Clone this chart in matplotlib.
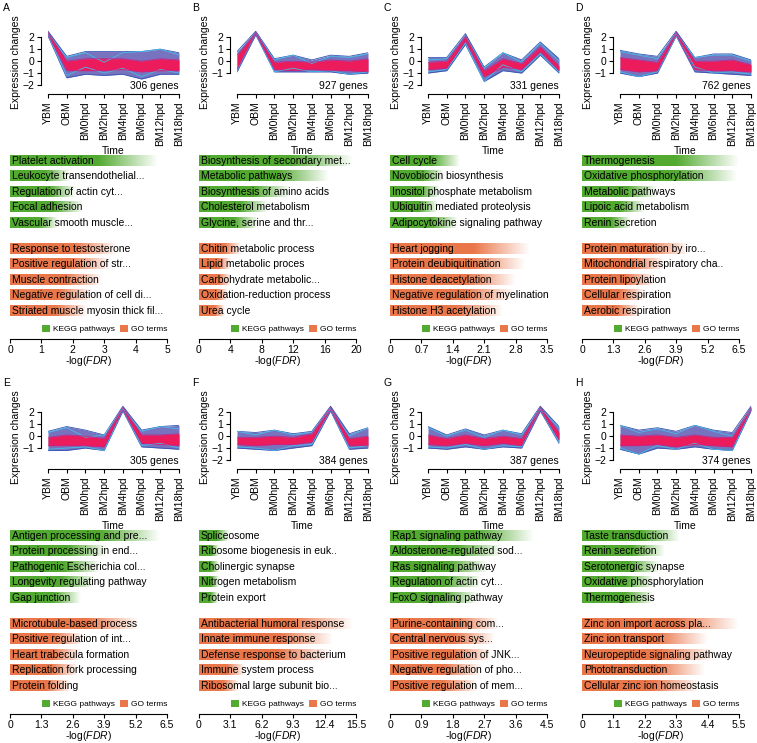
import numpy as np
import matplotlib
matplotlib.use('Agg')
import matplotlib.pyplot as plt
from matplotlib.patches import Patch
from matplotlib.colors import to_rgb
from matplotlib.transforms import offset_copy

plt.rcParams['font.family'] = ['Liberation Sans', 'DejaVu Sans']
plt.rcParams['font.size'] = 7.5
plt.rcParams['mathtext.fontset'] = 'custom'
plt.rcParams['mathtext.it'] = 'Liberation Sans:italic'
plt.rcParams['mathtext.rm'] = 'Liberation Sans'

# time points of the expression profiles
timepoints = ['YBM', 'OBM', 'BM0hpd', 'BM2hpd', 'BM4hpd', 'BM6hpd', 'BM12hpd', 'BM18hpd']
panel_letters = ['A', 'B', 'C', 'D', 'E', 'F', 'G', 'H']
gene_counts = [306, 927, 331, 762, 305, 384, 387, 374]
y_lower = [-2, -1, -2, -1, -1, -2, -1, -2]

# envelope of all gene profiles in each cluster (blue / purple lines)
outer_hi = [
    [2.5, 0.4, 0.8, 0.8, 0.8, 0.8, 1.0, 0.7],
    [0.8, 2.5, 0.2, 0.5, 0.1, 0.5, 0.4, 0.7],
    [0.3, 0.3, 2.3, -0.5, 0.7, 0.1, 1.6, 0.2],
    [0.9, 0.6, 0.4, 2.5, 0.3, 0.6, 0.6, 0.1],
    [0.4, 0.8, 0.5, 0.1, 2.5, 0.5, 0.8, 0.9],
    [0.4, 0.3, 0.5, 0.2, 0.4, 2.5, 0.2, 0.7],
    [0.8, 0.1, 0.6, 0.1, 0.5, 0.2, 2.5, 0.8],
    [0.9, 0.5, 0.7, 0.4, 0.9, 0.5, 0.3, 2.5],
]
outer_lo = [
    [2.1, -1.4, -1.1, -1.2, -1.1, -1.5, -1.1, -1.1],
    [-0.9, 2.2, -0.9, -0.9, -0.9, -0.9, -1.1, -1.0],
    [-1.0, -0.8, 1.4, -1.7, -0.8, -1.0, 0.5, -1.0],
    [-1.0, -1.3, -1.0, 2.1, -0.9, -1.0, -1.1, -1.2],
    [-1.2, -1.2, -1.0, -1.2, 2.1, -0.9, -1.0, -1.1],
    [-1.0, -1.1, -1.2, -1.0, -0.8, 2.1, -1.1, -1.0],
    [-1.0, -1.1, -0.9, -1.1, -0.9, -1.0, 2.1, -0.6],
    [-1.1, -1.5, -1.0, -1.1, -0.9, -1.1, -1.2, 2.1],
]
# core of high-membership profiles (red lines)
core_hi = [
    [2.4, 0.0, 0.2, 0.2, 0.2, 0.0, 0.2, 0.1],
    [0.5, 2.4, -0.1, 0.0, -0.1, 0.1, 0.0, 0.2],
    [-0.1, 0.0, 2.1, -0.8, 0.2, -0.2, 1.2, -0.4],
    [0.3, 0.1, -0.1, 2.4, 0.0, 0.0, 0.1, -0.3],
    [-0.1, 0.1, 0.0, -0.2, 2.4, 0.1, 0.1, 0.2],
    [-0.1, -0.1, 0.0, -0.1, 0.2, 2.4, -0.2, 0.0],
    [0.1, -0.2, 0.1, -0.2, 0.0, -0.2, 2.4, 0.3],
    [0.1, 0.0, 0.1, -0.1, 0.1, -0.1, -0.1, 2.4],
]
core_lo = [
    [2.2, -0.8, -0.8, -0.8, -0.7, -0.9, -0.8, -0.8],
    [-0.7, 2.3, -0.7, -0.8, -0.7, -0.8, -0.8, -0.9],
    [-0.7, -0.6, 1.7, -1.3, -0.5, -0.7, 0.8, -0.8],
    [-0.7, -0.9, -0.8, 2.2, -0.7, -0.8, -0.8, -0.9],
    [-0.8, -0.8, -0.8, -0.9, 2.2, -0.6, -0.7, -0.8],
    [-0.7, -0.8, -0.7, -0.7, -0.5, 2.2, -0.8, -0.8],
    [-0.7, -0.8, -0.6, -0.8, -0.6, -0.8, 2.2, -0.3],
    [-0.8, -0.8, -0.7, -0.9, -0.7, -0.8, -0.9, 2.2],
]
# low-membership profiles (cyan lines)
cyan_1 = [
    [2.3, 0.3, 0.7, -0.1, 0.7, 0.8, 1.0, 0.5],
    [0.6, 2.4, 0.1, 0.5, -0.2, 0.4, 0.3, 0.6],
    [0.1, 0.2, 2.1, -0.6, 0.7, -0.1, 1.5, 0.0],
    [0.8, 0.5, 0.2, 2.3, 0.3, 0.5, 0.5, 0.0],
    [0.3, 0.7, -0.1, 0.1, 2.3, 0.4, 0.8, 0.6],
    [0.4, 0.1, 0.5, 0.1, 0.3, 2.3, 0.0, 0.7],
    [0.7, 0.0, 0.5, -0.1, 0.5, 0.1, 2.3, 0.7],
    [0.9, 0.3, 0.6, 0.2, 0.9, 0.4, 0.0, 2.3],
]
cyan_2 = [
    [2.2, -1.2, -0.5, -1.0, -0.6, -1.3, -0.7, -1.0],
    [-0.8, 2.3, -0.9, -0.6, -0.9, -0.8, -1.1, -0.9],
    [-0.9, -0.7, 1.5, -1.7, -0.3, -0.9, 0.6, -0.9],
    [-0.9, -1.3, -0.9, 2.1, -0.5, -1.0, -0.9, -1.1],
    [-1.1, -1.0, -0.9, -1.2, 2.2, -0.8, -0.6, -1.0],
    [-0.9, -1.0, -1.2, -0.8, -0.7, 2.2, -1.0, -0.8],
    [-0.9, -1.0, -0.7, -1.1, -0.8, -0.9, 2.2, -0.5],
    [-1.0, -1.5, -0.8, -1.1, -0.6, -1.1, -1.2, 2.2],
]

# enrichment results
kegg_terms = [
    ['Platelet activation', 'Leukocyte transendothelial...', 'Regulation of actin cyt...',
     'Focal adhesion', 'Vascular smooth muscle...'],
    ['Biosynthesis of secondary met...', 'Metabolic pathways', 'Biosynthesis of amino acids',
     'Cholesterol metabolism', 'Glycine, serine and thr...'],
    ['Cell cycle', 'Novobiocin biosynthesis', 'Inositol phosphate metabolism',
     'Ubiquitin mediated proteolysis', 'Adipocytokine signaling pathway'],
    ['Thermogenesis', 'Oxidative phosphorylation', 'Metabolic pathways',
     'Lipoic acid metabolism', 'Renin secretion'],
    ['Antigen processing and pre...', 'Protein processing in end...', 'Pathogenic Escherichia col...',
     'Longevity regulating pathway', 'Gap junction'],
    ['Spliceosome', 'Ribosome biogenesis in euk..', 'Cholinergic synapse',
     'Nitrogen metabolism', 'Protein export'],
    ['Rap1 signaling pathway', 'Aldosterone-regulated sod...', 'Ras signaling pathway',
     'Regulation of actin cyt...', 'FoxO signaling pathway'],
    ['Taste transduction', 'Renin secretion', 'Serotonergic synapse',
     'Oxidative phosphorylation', 'Thermogenesis'],
]
kegg_vals = [
    [4.7, 1.9, 2.1, 2.3, 1.5],
    [19.5, 16.5, 11.5, 8.7, 7.4],
    [1.55, 1.2, 1.1, 1.05, 1.5],
    [6.5, 6.4, 3.1, 2.6, 2.0],
    [6.2, 4.0, 3.7, 3.5, 2.9],
    [2.9, 1.9, 1.9, 1.9, 1.8],
    [4.1, 3.2, 2.8, 2.6, 2.5],
    [3.4, 2.9, 2.7, 2.5, 2.5],
]
go_terms = [
    ['Response to testosterone', 'Positive regulation of str...', 'Muscle contraction',
     'Negative regulation of cell di...', 'Striated muscle myosin thick fil...'],
    ['Chitin metabolic process', 'Lipid metabolic proces', 'Carbohydrate metabolic...',
     'Oxidation-reduction process', 'Urea cycle'],
    ['Heart jogging', 'Protein deubiquitination', 'Histone deacetylation',
     'Negative regulation of myelination', 'Histone H3 acetylation'],
    ['Protein maturation by iro...', 'Mitochondrial respiratory cha..', 'Protein lipoylation',
     'Cellular respiration', 'Aerobic respiration'],
    ['Microtubule-based process', 'Positive regulation of int...', 'Heart trabecula formation',
     'Replication fork processing', 'Protein folding'],
    ['Antibacterial humoral response', 'Innate immune response', 'Defense response to bacterium',
     'Immune system process', 'Ribosomal large subunit bio...'],
    ['Purine-containing com...', 'Central nervous sys...', 'Positive regulation of JNK...',
     'Negative regulation of pho...', 'Positive regulation of mem...'],
    ['Zinc ion import across pla...', 'Zinc ion transport', 'Neuropeptide signaling pathway',
     'Phototransduction', 'Cellular zinc ion homeostasis'],
]
go_vals = [
    [3.4, 3.2, 2.9, 2.6, 2.45],
    [5.3, 4.0, 4.0, 3.6, 3.2],
    [3.1, 3.0, 2.8, 2.75, 2.5],
    [4.4, 3.4, 3.0, 2.6, 2.4],
    [5.3, 3.0, 2.9, 2.8, 2.5],
    [15.2, 13.2, 13.0, 4.5, 3.9],
    [3.1, 3.0, 2.9, 2.6, 2.5],
    [5.5, 4.4, 4.6, 4.3, 4.1],
]
fdr_max = [5, 20, 3.5, 6.5, 6.5, 15.5, 4.5, 5.5]

GREEN = '#52aa30'
ORANGE = '#ea774a'

W, H = 757, 743
fig = plt.figure(figsize=(W / 100, H / 100), dpi=100)


def px_axes(x, y, w, h):
    # axes from pixel box (top-left origin)
    return fig.add_axes([x / W, 1 - (y + h) / H, w / W, h / H])


def grad_bar(ax, row, val, color):
    rgb = to_rgb(color)
    t = np.linspace(0, 1, 256)
    img = np.zeros((1, 256, 4))
    img[..., :3] = rgb
    img[..., 3] = np.clip((1 - t) / 0.4, 0, 1)
    ax.imshow(img, extent=(0, val, row + 0.33, row - 0.33), aspect='auto',
              interpolation='bilinear')


col_x = [0, 189, 380, 572]
row_y = [0, 375]
x = np.arange(len(timepoints))

for i in range(8):
    x0 = col_x[i % 4]
    y0 = row_y[i // 4]

    fig.text((x0 + 3) / W, 1 - (y0 + 8) / H, panel_letters[i], va='center', ha='left')

    # expression profile plot
    ax = px_axes(x0 + 48, y0 + 30, 131, 64)
    ax.fill_between(x, outer_lo[i], outer_hi[i], color='#4a44a8', alpha=0.75, lw=0)
    ax.plot(x, outer_hi[i], color='#3556b5', lw=0.6)
    ax.plot(x, outer_lo[i], color='#3556b5', lw=0.6)
    ax.plot(x, cyan_1[i], color='#43bde8', lw=0.6)
    ax.plot(x, cyan_2[i], color='#43bde8', lw=0.6)
    ax.fill_between(x, core_lo[i], core_hi[i], color='#ec1c5c', lw=0)
    ax.plot(x, core_hi[i], color='#c0248a', lw=0.5)
    ax.plot(x, core_lo[i], color='#c0248a', lw=0.5)
    ax.set_xlim(0, 7)
    ax.set_ylim(-2.75, 2.6)
    ax.set_xticks(x)
    ax.set_xticklabels(timepoints, rotation=90)
    ax.set_yticks(range(y_lower[i], 3))
    ax.tick_params(length=3, pad=2, width=0.8)
    for s in ['top', 'right']:
        ax.spines[s].set_visible(False)
    ax.spines['left'].set_position(('outward', 5))
    ax.spines['left'].set_bounds(y_lower[i], 2)
    ax.spines['bottom'].set_bounds(0, 7)
    ax.spines['left'].set_linewidth(0.8)
    ax.spines['bottom'].set_linewidth(0.8)
    ax.text(7, -2.05, '%d genes' % gene_counts[i], ha='right', va='center')
    ax.set_ylabel('Expression changes', labelpad=1)
    ax.set_xlabel('Time', labelpad=0)

    # enrichment bars
    bx = px_axes(x0 + 10, y0 + 150, 157, 189)
    bx.patch.set_visible(False)
    off = offset_copy(bx.transData, fig=fig, x=2, y=0, units='dots')
    for k in range(5):
        grad_bar(bx, k, kegg_vals[i][k], GREEN)
        bx.text(0, k, kegg_terms[i][k], transform=off, va='center', ha='left')
    for k in range(5):
        r = 5.68 + k
        grad_bar(bx, r, go_vals[i][k], ORANGE)
        bx.text(0, r, go_terms[i][k], transform=off, va='center', ha='left')
    m = fdr_max[i]
    bx.set_xlim(0, m)
    bx.set_ylim(11.5, -0.7)
    ticks = np.linspace(0, m, 6)
    bx.set_xticks(ticks)
    bx.set_xticklabels(['%g' % round(v, 1) for v in ticks])
    bx.set_yticks([])
    bx.tick_params(axis='x', length=3, pad=1.5, width=0.8)
    for s in ['top', 'right', 'left']:
        bx.spines[s].set_visible(False)
    bx.spines['bottom'].set_linewidth(0.8)
    bx.set_xlabel(r'-log($\it{FDR}$)', labelpad=-1)
    handles = [Patch(facecolor=GREEN, label='KEGG pathways'),
               Patch(facecolor=ORANGE, label='GO terms')]
    bx.legend(handles=handles, loc='center right', bbox_to_anchor=(1.0, 0.053),
              ncol=2, frameon=False, fontsize=6, handlelength=1.0, handleheight=1.0,
              handletextpad=0.3, columnspacing=0.6, borderpad=0, borderaxespad=0)

fig.savefig('out.png', dpi=100)
